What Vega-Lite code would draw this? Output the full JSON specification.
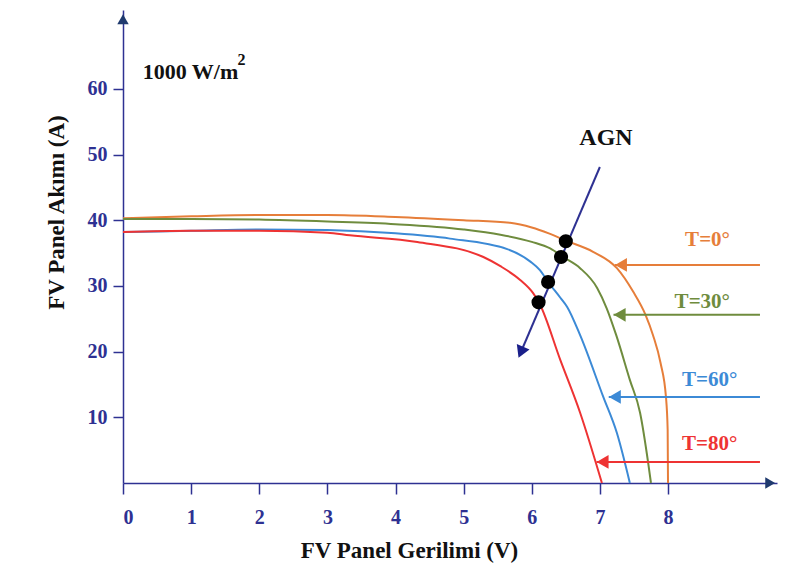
{
  "$schema": "https://vega.github.io/schema/vega-lite/v6.json",
  "width": 654,
  "height": 473,
  "autosize": "none",
  "padding": {"left": 123, "top": 10, "right": 35, "bottom": 93},
  "background": "white",
  "config": {"view": {"stroke": null}, "font": "Liberation Serif"},
  "datasets": {
    "curves": [
      {"s": "T0", "V": 0, "I": 40.3}, {"s": "T0", "V": 1, "I": 40.6}, {"s": "T0", "V": 2, "I": 40.8}, {"s": "T0", "V": 3, "I": 40.8}, {"s": "T0", "V": 4, "I": 40.5}, {"s": "T0", "V": 5, "I": 40.0}, {"s": "T0", "V": 5.68, "I": 39.6}, {"s": "T0", "V": 6.0, "I": 38.9}, {"s": "T0", "V": 6.25, "I": 38.0}, {"s": "T0", "V": 6.5, "I": 36.9}, {"s": "T0", "V": 6.9, "I": 35.2}, {"s": "T0", "V": 7.25, "I": 32.7}, {"s": "T0", "V": 7.49, "I": 29.1}, {"s": "T0", "V": 7.67, "I": 25.6}, {"s": "T0", "V": 7.78, "I": 22.5}, {"s": "T0", "V": 7.89, "I": 18.3}, {"s": "T0", "V": 7.97, "I": 13.1}, {"s": "T0", "V": 7.995, "I": 8.1}, {"s": "T0", "V": 8.0, "I": 0},
      {"s": "T30", "V": 0, "I": 40.2}, {"s": "T30", "V": 1, "I": 40.2}, {"s": "T30", "V": 2, "I": 40.1}, {"s": "T30", "V": 3, "I": 39.8}, {"s": "T30", "V": 4, "I": 39.4}, {"s": "T30", "V": 5, "I": 38.6}, {"s": "T30", "V": 5.54, "I": 37.8}, {"s": "T30", "V": 6.0, "I": 36.7}, {"s": "T30", "V": 6.27, "I": 35.7}, {"s": "T30", "V": 6.46, "I": 34.4}, {"s": "T30", "V": 6.71, "I": 32.7}, {"s": "T30", "V": 6.96, "I": 29.7}, {"s": "T30", "V": 7.1, "I": 26.6}, {"s": "T30", "V": 7.24, "I": 22.5}, {"s": "T30", "V": 7.44, "I": 15.7}, {"s": "T30", "V": 7.59, "I": 10.7}, {"s": "T30", "V": 7.71, "I": 3}, {"s": "T30", "V": 7.75, "I": 0},
      {"s": "T60", "V": 0, "I": 38.2}, {"s": "T60", "V": 1, "I": 38.4}, {"s": "T60", "V": 2, "I": 38.6}, {"s": "T60", "V": 3, "I": 38.5}, {"s": "T60", "V": 4, "I": 38.0}, {"s": "T60", "V": 4.8, "I": 37.2}, {"s": "T60", "V": 5.64, "I": 35.6}, {"s": "T60", "V": 5.98, "I": 33.7}, {"s": "T60", "V": 6.12, "I": 32.4}, {"s": "T60", "V": 6.24, "I": 30.6}, {"s": "T60", "V": 6.42, "I": 28.2}, {"s": "T60", "V": 6.52, "I": 26.8}, {"s": "T60", "V": 6.71, "I": 22.5}, {"s": "T60", "V": 7.05, "I": 13.1}, {"s": "T60", "V": 7.25, "I": 7.6}, {"s": "T60", "V": 7.44, "I": 0},
      {"s": "T80", "V": 0, "I": 38.2}, {"s": "T80", "V": 1, "I": 38.4}, {"s": "T80", "V": 2, "I": 38.4}, {"s": "T80", "V": 3, "I": 38.1}, {"s": "T80", "V": 3.33, "I": 37.7}, {"s": "T80", "V": 4.32, "I": 36.7}, {"s": "T80", "V": 5.29, "I": 34.4}, {"s": "T80", "V": 5.54, "I": 33.0}, {"s": "T80", "V": 5.83, "I": 30.9}, {"s": "T80", "V": 6.02, "I": 28.9}, {"s": "T80", "V": 6.11, "I": 27.4}, {"s": "T80", "V": 6.42, "I": 18.7}, {"s": "T80", "V": 6.71, "I": 10.7}, {"s": "T80", "V": 7.03, "I": 0}
    ],
    "dots": [
      {"V": 6.5, "I": 36.8}, {"V": 6.43, "I": 34.4}, {"V": 6.24, "I": 30.6}, {"V": 6.1, "I": 27.5}
    ],
    "agn": [
      {"V": 7.0, "I": 48.1}, {"V": 5.86, "I": 20.4}
    ],
    "agnHead": [
      {"V": 5.84, "I": 19.9}
    ],
    "arrows": [
      {"s": "T0", "V": 7.22, "I": 33.2}, {"s": "T0", "V": 9.35, "I": 33.2},
      {"s": "T30", "V": 7.2, "I": 25.6}, {"s": "T30", "V": 9.35, "I": 25.6},
      {"s": "T60", "V": 7.13, "I": 13.1}, {"s": "T60", "V": 9.35, "I": 13.1},
      {"s": "T80", "V": 6.95, "I": 3.2}, {"s": "T80", "V": 9.35, "I": 3.2}
    ],
    "heads": [
      {"s": "T0", "V": 7.31, "I": 33.2}, {"s": "T30", "V": 7.29, "I": 25.6}, {"s": "T60", "V": 7.22, "I": 13.1}, {"s": "T80", "V": 7.04, "I": 3.2}
    ],
    "labels": [
      {"s": "T0", "V": 8.91, "I": 37.0, "t": "T=0°"}, {"s": "T30", "V": 8.91, "I": 27.5, "t": "T=30°"}, {"s": "T60", "V": 9.02, "I": 15.7, "t": "T=60°"}, {"s": "T80", "V": 9.02, "I": 5.9, "t": "T=80°"}
    ],
    "notes": [
      {"V": 0.29, "I": 62.5, "t": "1000 W/m"}
    ],
    "sup": [
      {"V": 1.68, "I": 64.4, "t": "2"}
    ],
    "agnText": [
      {"V": 7.09, "I": 52.5, "t": "AGN"}
    ],
    "axisHeads": [
      {"V": 9.5, "I": 0, "d": "x"}, {"V": 0, "I": 70.6, "d": "y"}
    ]
  },
  "encoding": {
    "x": {
      "field": "V", "type": "quantitative",
      "scale": {"domain": [0, 9.6], "nice": false, "zero": false},
      "axis": {
        "values": [0, 1, 2, 3, 4, 5, 6, 7, 8],
        "grid": false, "domainColor": "#2e3192", "domainWidth": 1.5,
        "tickColor": "#2e3192", "tickSize": 11, "tickWidth": 1.5,
        "labelColor": "#2e3192", "labelFont": "Liberation Serif", "labelFontWeight": "bold", "labelFontSize": 20, "labelPadding": 13,
        "title": "FV Panel Gerilimi (V)", "titleFont": "Liberation Serif", "titleFontWeight": "bold", "titleFontSize": 23, "titleColor": "#111111",
        "titleX": 286, "titleY": 67, "titleBaseline": "middle", "titleAlign": "center"
      }
    },
    "y": {
      "field": "I", "type": "quantitative",
      "scale": {"domain": [0, 72], "nice": false, "zero": false},
      "axis": {
        "values": [10, 20, 30, 40, 50, 60],
        "grid": false, "domainColor": "#2e3192", "domainWidth": 1.5,
        "tickColor": "#2e3192", "tickSize": 10, "tickWidth": 1.5,
        "labelColor": "#2e3192", "labelFont": "Liberation Serif", "labelFontWeight": "bold", "labelFontSize": 20, "labelPadding": 6,
        "title": "FV Panel Akımı (A)", "titleFont": "Liberation Serif", "titleFontWeight": "bold", "titleFontSize": 23, "titleColor": "#111111",
        "titleX": -67, "titleY": 202, "titleBaseline": "middle", "titleAlign": "center", "titleAngle": -90
      }
    }
  },
  "layer": [
    {
      "data": {"name": "curves"},
      "mark": {"type": "line", "strokeWidth": 2, "interpolate": "monotone"},
      "encoding": {
        "color": {"field": "s", "type": "nominal", "legend": null,
          "scale": {"domain": ["T0", "T30", "T60", "T80"], "range": ["#e67e3a", "#6f8c3e", "#3c8ad6", "#ee3333"]}},
        "order": {"value": null}
      }
    },
    {
      "data": {"name": "agn"},
      "mark": {"type": "line", "strokeWidth": 2, "color": "#2e3192"},
      "encoding": {"order": {"value": null}}
    },
    {
      "data": {"name": "agnHead"},
      "mark": {"type": "point", "shape": "triangle-up", "angle": 203, "size": 190, "filled": true, "opacity": 1, "color": "#1a1f8a"},
      "encoding": {}
    },
    {
      "data": {"name": "dots"},
      "mark": {"type": "circle", "size": 200, "opacity": 1, "color": "#000000"},
      "encoding": {}
    },
    {
      "data": {"name": "arrows"},
      "mark": {"type": "line", "strokeWidth": 2},
      "encoding": {
        "detail": {"field": "s"},
        "color": {"field": "s", "type": "nominal", "legend": null,
          "scale": {"domain": ["T0", "T30", "T60", "T80"], "range": ["#e67e3a", "#6f8c3e", "#2a3190", "#d02828"]}}
      }
    },
    {
      "data": {"name": "heads"},
      "mark": {"type": "point", "shape": "triangle-left", "size": 190, "filled": true, "opacity": 1},
      "encoding": {
        "color": {"field": "s", "type": "nominal", "legend": null,
          "scale": {"domain": ["T0", "T30", "T60", "T80"], "range": ["#e67e3a", "#6f8c3e", "#1a1f8a", "#c81e1e"]}}
      }
    },
    {
      "data": {"name": "labels"},
      "mark": {"type": "text", "align": "right", "baseline": "middle", "font": "Liberation Serif", "fontWeight": "bold", "fontSize": 21},
      "encoding": {
        "text": {"field": "t"},
        "color": {"field": "s", "type": "nominal", "legend": null,
          "scale": {"domain": ["T0", "T30", "T60", "T80"], "range": ["#e8843c", "#6b8a3c", "#1f2d7a", "#c8282c"]}}
      }
    },
    {
      "data": {"name": "notes"},
      "mark": {"type": "text", "align": "left", "baseline": "middle", "font": "Liberation Serif", "fontWeight": "bold", "fontSize": 22, "color": "#111111"},
      "encoding": {"text": {"field": "t"}}
    },
    {
      "data": {"name": "sup"},
      "mark": {"type": "text", "align": "left", "baseline": "middle", "font": "Liberation Serif", "fontWeight": "bold", "fontSize": 16, "color": "#111111"},
      "encoding": {"text": {"field": "t"}}
    },
    {
      "data": {"name": "agnText"},
      "mark": {"type": "text", "align": "center", "baseline": "middle", "font": "Liberation Serif", "fontWeight": "bold", "fontSize": 24, "color": "#111111"},
      "encoding": {"text": {"field": "t"}}
    },
    {
      "data": {"name": "axisHeads"},
      "mark": {"type": "point", "size": 130, "filled": true, "opacity": 1, "color": "#1f3a6e"},
      "encoding": {
        "shape": {"field": "d", "type": "nominal", "legend": null,
          "scale": {"domain": ["x", "y"], "range": ["triangle-right", "triangle-up"]}}
      }
    }
  ]
}
